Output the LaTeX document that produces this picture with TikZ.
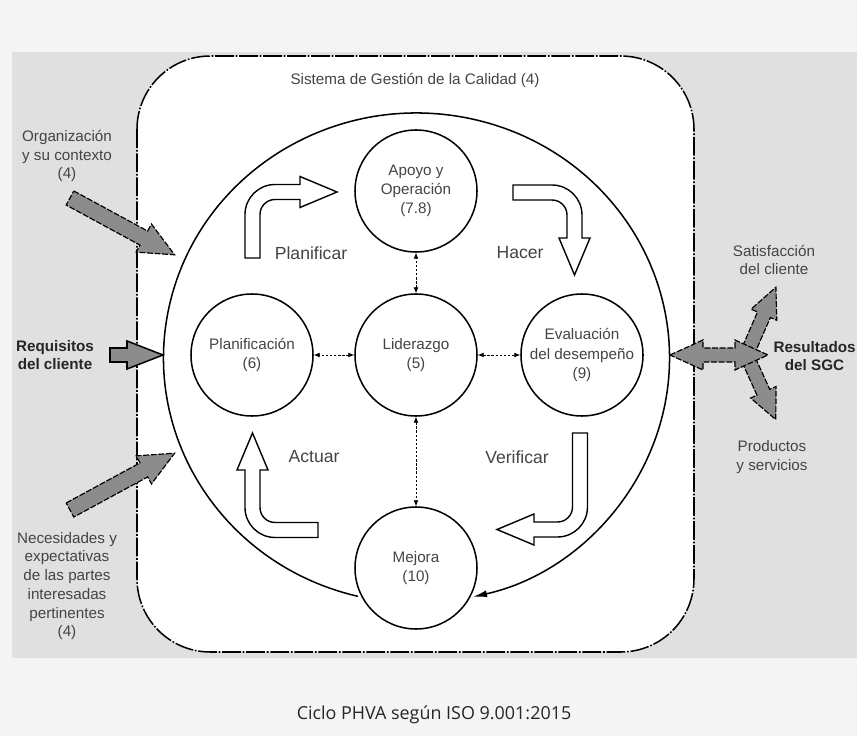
\documentclass[tikz,border=0pt]{standalone}
\usepackage{fontspec}
\setmainfont{Liberation Sans}
\newfontfamily\capfont{Open Sans}
\usetikzlibrary{arrows.meta}
\definecolor{bandgray}{HTML}{E0E0E0}
\definecolor{pagegray}{HTML}{F4F4F4}
\definecolor{arrgray}{HTML}{8C8C8C}
\definecolor{txtgray}{HTML}{444444}

\tikzset{
  circ/.style={circle, draw, line width=1.3pt, fill=white, minimum size=3.66cm, inner sep=0pt, align=center, text=txtgray, font=\fontsize{13}{16.5}\selectfont},
  lbl/.style={align=center, text=txtgray, font=\fontsize{13}{16}\selectfont},
  boldlbl/.style={lbl, text=black!85, font=\fontsize{13}{16}\selectfont\bfseries},
  phva/.style={text=txtgray, font=\fontsize{15}{18}\selectfont},
  link/.style={{Latex[length=5pt,width=4pt]}-{Latex[length=5pt,width=4pt]}, dash pattern=on 2pt off 1.5pt, line width=0.6pt},
  bentstyle/.style={draw, fill=white, line width=1.2pt, line join=miter},
  gray arrow/.style={draw, fill=arrgray, line width=1pt},
  dashed edge/.style={dash pattern=on 5pt off 1.5pt},
  pics/bentarrow/.style 2 args={code={
    \draw[bentstyle] (-7.5,#1) -- (-7.5,22.5) arc (180:270:30) -- ({#2-37},-7.5) -- ({#2-37},-15.5) -- (#2,0) -- ({#2-37},15.5) -- ({#2-37},7.5) -- (22.5,7.5) arc (270:180:15) -- (7.5,#1) -- cycle;
  }},
  pics/garrow/.style n args={4}{code={
    \path[pic actions] (0,-#2) -- ({#1-#4},-#2) -- ({#1-#4},-#3) -- (#1,0) -- ({#1-#4},#3) -- ({#1-#4},#2) -- (0,#2) -- cycle;
  }},
}

\begin{document}
\begin{tikzpicture}[x=0.03cm, y=-0.03cm]
    \useasboundingbox (0,0) rectangle (857,736);
    \fill[pagegray] (0,0) rectangle (857,736);
    \fill[bandgray] (12,52) rectangle (857,658);

    % quality management system frame
    \draw[fill=white, line width=1.3pt, rounded corners=2.2cm, dash pattern=on 16pt off 1.5pt on 1.5pt off 1.5pt] (137,56) rectangle (694,652);
    \node[lbl] (sgc) at (415,80) {Sistema de Gestión de la Calidad (4)};

    % outer cycle
    \draw[line width=1.3pt, -{Latex[length=12pt,width=6pt]}] (416.5,358) ++(103.4:253 and 245) arc (103.4:437.1:253 and 245);

    % PHVA arrows
    \pic at (252.5,192) {bentarrow={66}{84.5}};
    \pic[rotate=-90] at (574.5,192.5) {bentarrow={61.5}{82.5}};
    \pic[rotate=180] at (580,529.5) {bentarrow={96.5}{83}};
    \pic[rotate=90] at (252.5,530) {bentarrow={65.5}{97}};

    \node[phva] (planificar) at (311,253) {Planificar};
    \node[phva] (hacer) at (520,253) {Hacer};
    \node[phva] (verificar) at (517,457) {Verificar};
    \node[phva] (actuar) at (314,457) {Actuar};

    % clauses
    \node[circ] (apoyo) at (416,191) {Apoyo y\\Operación\\(7.8)};
    \node[circ] (plan) at (252,355) {Planificación\\(6)};
    \node[circ] (lid) at (416,355) {Liderazgo\\(5)};
    \node[circ] (eval) at (582,355) {Evaluación\\del desempeño\\(9)};
    \node[circ] (mejora) at (416,568) {Mejora\\(10)};
    \foreach \n in {apoyo,plan,eval,mejora}
        \draw[link] (lid) -- (\n);

    % inputs
    \node[lbl] (org) at (67,156) {Organización\\y su contexto\\(4)};
    \node[boldlbl] (req) at (55,355) {Requisitos\\del cliente};
    \node[lbl] (nec) at (67,586) {Necesidades y\\expectativas\\de las partes\\interesadas\\pertinentes\\(4)};
    \pic[gray arrow, dashed edge, rotate=-28.5] at (70,198) {garrow={119}{8}{16}{35}};
    \pic[gray arrow, line width=1.3pt] at (110,355) {garrow={53}{7}{14}{36}};
    \pic[gray arrow, dashed edge, rotate=28.5] at (70,510) {garrow={119}{8}{16}{35}};

    % outputs
    \pic[gray arrow, dashed edge, rotate=66.5] at (746,356) {garrow={75}{7}{14}{30}};
    \pic[gray arrow, dashed edge, rotate=-65.6] at (746,354) {garrow={72}{7}{14}{30}};
    \draw[gray arrow, dashed edge] (670,355) -- (703,340) -- (703,348) -- (735,348) -- (735,340) -- (768,355) -- (735,370) -- (735,362) -- (703,362) -- (703,370) -- cycle;
    \node[lbl] (satis) at (774,260) {Satisfacción\\del cliente};
    \node[lbl] (prod) at (772,457) {Productos\\y servicios};
    \node[boldlbl, anchor=east, inner xsep=1pt] (res) at (857,356) {Resultados\\del SGC};

    \node[font=\capfont\fontsize{15.3}{18}\selectfont, text=black!85] (cap) at (434,715) {Ciclo PHVA según ISO 9.001:2015};
\end{tikzpicture}
\end{document}
